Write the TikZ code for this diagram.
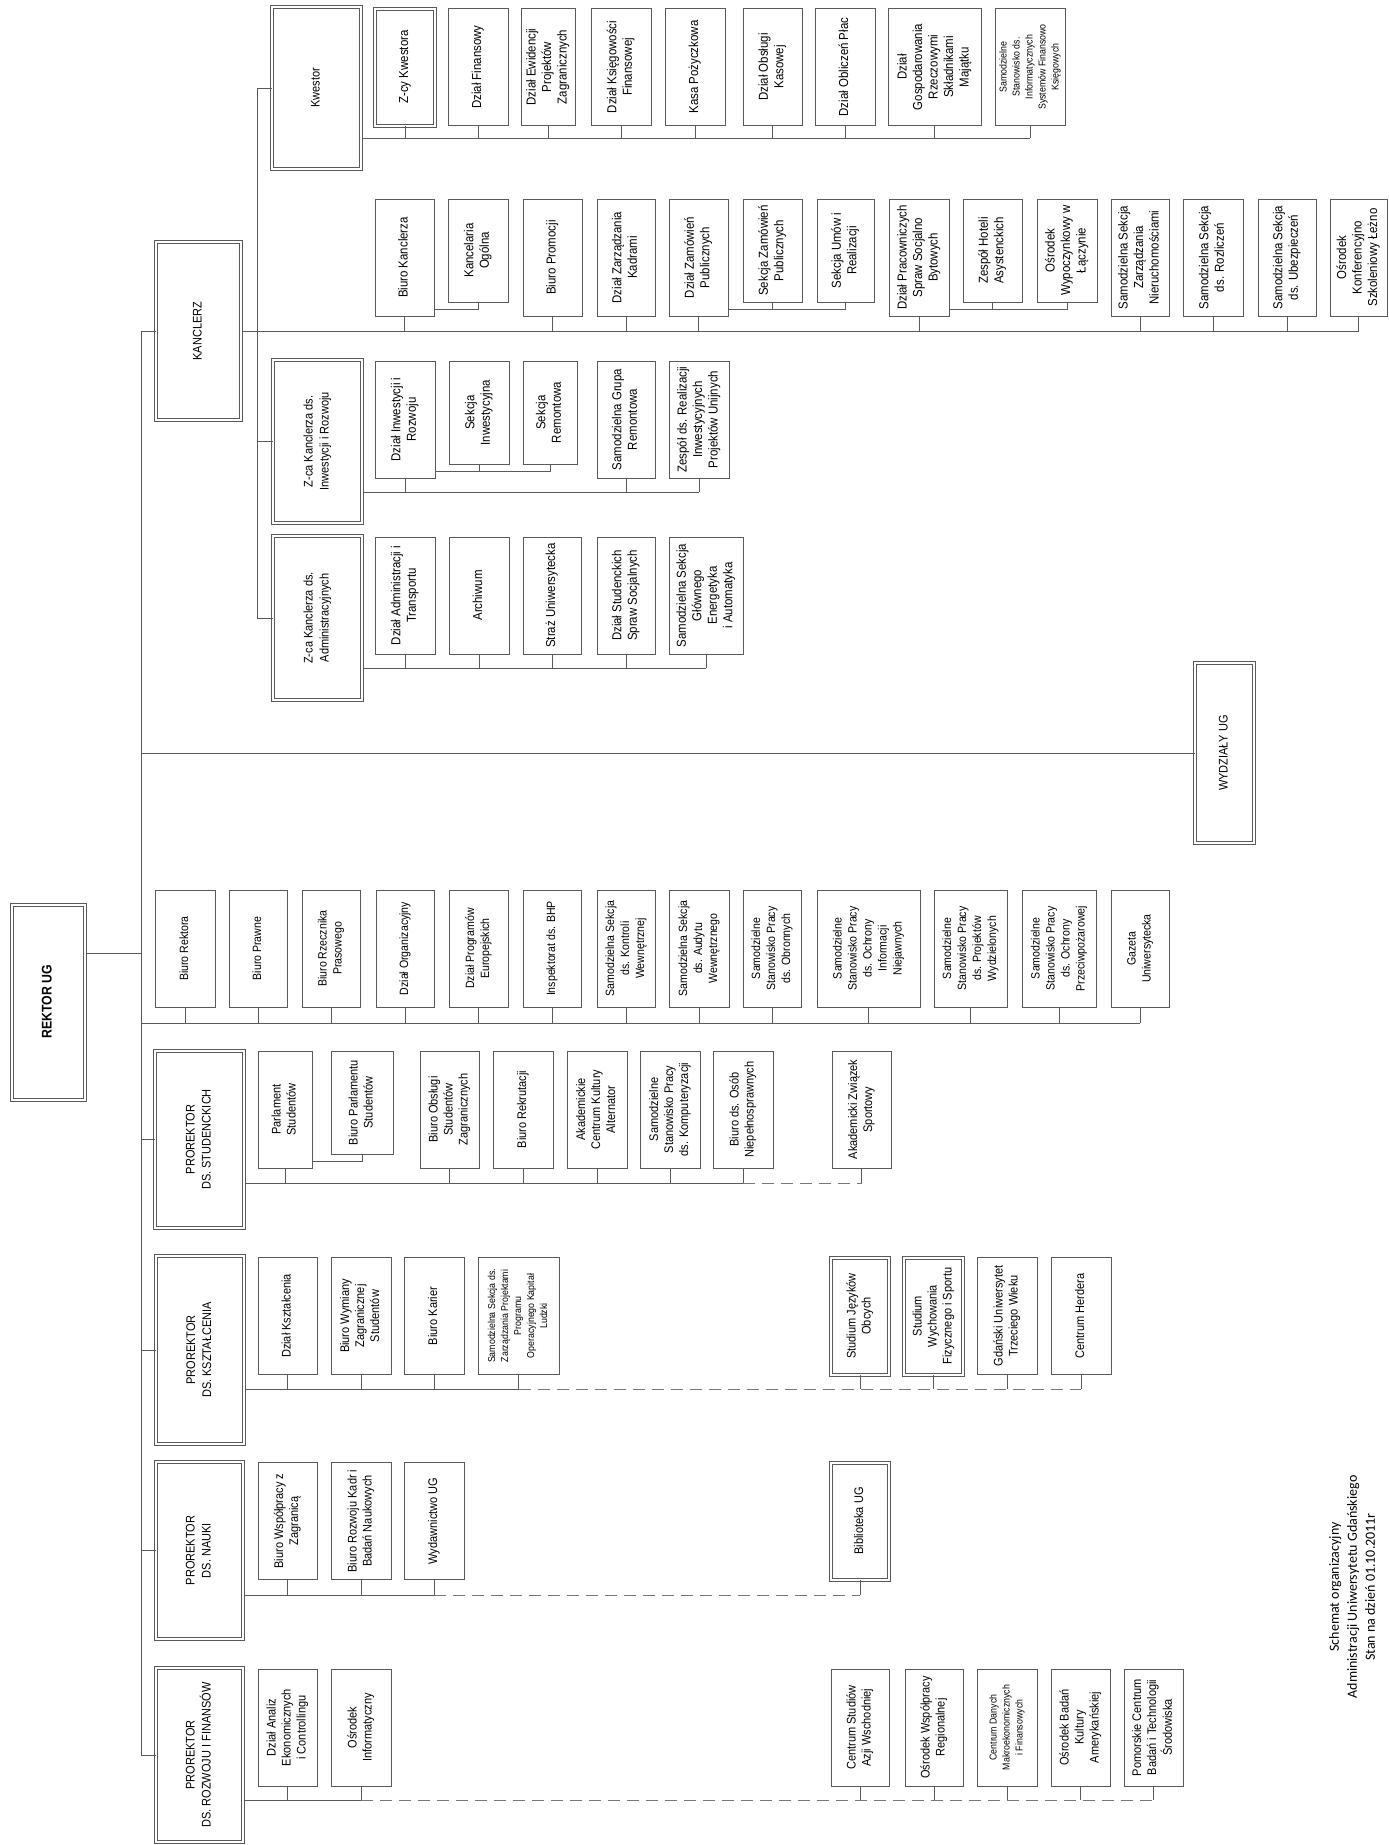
\documentclass[tikz,border=0pt]{standalone}
\usepackage{fontspec}
\setmainfont{Liberation Sans}[FakeStretch=0.88]
\newfontfamily\notefont{Carlito}
\definecolor{linec}{RGB}{90,90,90}
\definecolor{dashc}{RGB}{120,120,120}
\newcommand{\vt}[1]{\rotatebox{90}{\begin{tabular}{@{}c@{}}#1\end{tabular}}}
\newcommand{\unitfont}{\fontsize{13}{15.5}\selectfont}

\begin{document}
\begin{tikzpicture}[x=1pt,y=-1pt,line width=0.9pt]
  \tikzset{unit/.style={draw=linec,fill=white,inner sep=0pt,minimum height=117,font=\unitfont},
    subunit/.style={unit,minimum height=103},
    dunit/.style={unit,double=white,double distance=2pt,line width=1pt},
    head/.style={dunit,font={\fontsize{12.5}{16}\selectfont}},
    small/.style={font={\fontsize{10}{13}\selectfont}},
    link/.style={draw=linec},
    dashlink/.style={draw=dashc,dash pattern=on 12pt off 7pt}}
  \useasboundingbox (0,0) rectangle (1389,1845);
  % heads
  \node[head,minimum width=73,minimum height=195,font={\bfseries\fontsize{14}{16}\selectfont}] (rek) at (48.5,1002) {\vt{REKTOR UG}};
  \node[head,minimum width=85,minimum height=178] (kan) at (198.5,331) {\vt{KANCLERZ}};
  \node[head,minimum width=89,minimum height=162] (kw) at (316.5,88) {\vt{Kwestor}};
  \node[head,minimum width=89,minimum height=163] (zinw) at (317.5,441.5) {\vt{Z-ca Kanclerza ds.\\Inwestycji i Rozwoju}};
  \node[head,minimum width=89,minimum height=164] (zadm) at (317.5,618) {\vt{Z-ca Kanclerza ds.\\Administracyjnych}};
  \node[head,minimum width=59,minimum height=180] (wydz) at (1224.5,753) {\vt{WYDZIAŁY UG}};
  \node[head,minimum width=89,minimum height=177] (pst) at (199.5,1139.5) {\vt{PROREKTOR\\DS. STUDENCKICH}};
  \node[head,minimum width=88,minimum height=188] (pks) at (200,1350) {\vt{PROREKTOR\\DS. KSZTAŁCENIA}};
  \node[head,minimum width=87,minimum height=177] (pn) at (199.5,1550.5) {\vt{PROREKTOR\\DS. NAUKI}};
  \node[head,minimum width=87,minimum height=174] (prf) at (199.5,1755) {\vt{PROREKTOR\\DS. ROZWOJU I FINANSÓW}};

  % spine
  \coordinate (spine) at (141,0);
  \coordinate (rekc) at (0,953);
  \coordinate (rekbus) at (0,1023);
  \draw[link] (kan.west -| spine) -- (prf.west -| spine);
  \foreach \n in {kan,wydz,pst,pks,pn,prf}
    \draw[link] (\n.west) -- (\n.west -| spine);
  \draw[link] (rek.east |- rekc) -- (rekc -| spine);

  % kwestor
  \node[dunit,minimum width=60] (zkw) at (405,67) {\vt{Z-cy Kwestora}};
  \node[unit,minimum width=60] (dfin) at (478,67) {\vt{Dział Finansowy}};
  \node[unit,minimum width=54] (dew) at (548,67) {\vt{Dział Ewidencji\\Projektów\\Zagranicznych}};
  \node[unit,minimum width=60] (dks) at (621,67) {\vt{Dział Księgowości\\Finansowej}};
  \node[unit,minimum width=60] (kasa) at (695,67) {\vt{Kasa Pożyczkowa}};
  \node[unit,minimum width=59] (dok) at (772.5,67) {\vt{Dział Obsługi\\Kasowej}};
  \node[unit,minimum width=60] (dop) at (845,67) {\vt{Dział Obliczeń Płac}};
  \node[unit,minimum width=93] (dgos) at (934.5,67) {\vt{Dział\\Gospodarowania\\Rzeczowymi\\Składnikami\\Majątku}};
  \node[unit,small,minimum width=70] (ssinf) at (1030,67) {\vt{Samodzielne\\Stanowisko ds.\\Informatycznych\\Systemów Finansowo\\Księgowych}};
  \coordinate (kwbus) at (0,138);
  \draw[link] (kw.east |- kwbus) -- (ssinf.south |- kwbus);
  \foreach \n in {zkw,dfin,dew,dks,kasa,dok,dop,dgos,ssinf}
    \draw[link] (\n.south) -- (\n.south |- kwbus);

  % kanclerz
  \node[unit,minimum width=59] (bk) at (404.5,257.5) {\vt{Biuro Kanclerza}};
  \node[subunit,minimum width=60] (ko) at (478,250.5) {\vt{Kancelaria\\Ogólna}};
  \node[unit,minimum width=59] (bp) at (552.5,257.5) {\vt{Biuro Promocji}};
  \node[unit,minimum width=58] (dzk) at (626,257.5) {\vt{Dział Zarządzania\\Kadrami}};
  \node[unit,minimum width=59] (dzp) at (698.5,257.5) {\vt{Dział Zamówień\\Publicznych}};
  \node[subunit,minimum width=59] (szp) at (772.5,250.5) {\vt{Sekcja Zamówień\\Publicznych}};
  \node[subunit,minimum width=57] (sur) at (845.5,250.5) {\vt{Sekcja Umów i\\Realizacji}};
  \node[unit,minimum width=60] (dpsb) at (919,257.5) {\vt{Dział Pracowniczych\\Spraw Socjalno\\Bytowych}};
  \node[subunit,minimum width=59] (zha) at (992.5,250.5) {\vt{Zespół Hoteli\\Asystenckich}};
  \node[subunit,minimum width=60] (owl) at (1067,250.5) {\vt{Ośrodek\\Wypoczynkowy w\\Łączynie}};
  \node[unit,minimum width=58] (ssn) at (1140,257.5) {\vt{Samodzielna Sekcja\\Zarządzania\\Nieruchomościami}};
  \node[unit,minimum width=60] (ssr) at (1213,257.5) {\vt{Samodzielna Sekcja\\ds. Rozliczeń}};
  \node[unit,minimum width=58] (ssu) at (1287,257.5) {\vt{Samodzielna Sekcja\\ds. Ubezpieczeń}};
  \node[unit,minimum width=57] (okl) at (1358.5,257.5) {\vt{Ośrodek\\Konferencyjno\\Szkoleniowy Łeżno}};
  \coordinate (kansub) at (0,309);
  \draw[link] (kan.east) -- (okl.south |- kan.east);
  \foreach \n in {bk,bp,dzk,dzp,dpsb,ssn,ssr,ssu,okl}
    \draw[link] (\n.south) -- (\n.south |- kan.east);
  \draw[link] (bk.east |- kansub) -| (ko.south);
  \draw[link] (dzp.east |- kansub) -| (sur.south);
  \draw[link] (szp.south) -- (szp.south |- kansub);
  \draw[link] (dpsb.east |- kansub) -| (owl.south);
  \draw[link] (zha.south) -- (zha.south |- kansub);
  \coordinate (kline) at (257,0);
  \draw[link] (kw.west -| kline) -- (zadm.west -| kline);
  \foreach \n in {kw,zinw,zadm}
    \draw[link] (\n.west) -- (\n.west -| kline);

  % inwestycje
  \node[unit,minimum width=60] (dir) at (405,419.5) {\vt{Dział Inwestycji i\\Rozwoju}};
  \node[subunit,minimum width=60] (si) at (479,412.5) {\vt{Sekcja\\Inwestycyjna}};
  \node[subunit,minimum width=54] (sr) at (550,412.5) {\vt{Sekcja\\Remontowa}};
  \node[unit,minimum width=58] (sgr) at (626,419.5) {\vt{Samodzielna Grupa\\Remontowa}};
  \node[unit,minimum width=60] (zri) at (699,419.5) {\vt{Zespół ds. Realizacji\\Inwestycyjnych\\Projektów Unijnych}};
  \coordinate (zinwbus) at (0,492);
  \coordinate (zinwsub) at (0,471);
  \draw[link] (zinw.east |- zinwbus) -- (zri.south |- zinwbus);
  \foreach \n in {dir,sgr,zri}
    \draw[link] (\n.south) -- (\n.south |- zinwbus);
  \draw[link] (dir.east |- zinwsub) -| (sr.south);
  \draw[link] (si.south) -- (si.south |- zinwsub);

  % administracja
  \node[unit,minimum width=60] (dat) at (405,595.5) {\vt{Dział Administracji i\\Transportu}};
  \node[unit,minimum width=60] (arch) at (479,595.5) {\vt{Archiwum}};
  \node[unit,minimum width=58] (su) at (552,595.5) {\vt{Straż Uniwersytecka}};
  \node[unit,minimum width=58] (dsss) at (626,595.5) {\vt{Dział Studenckich\\Spraw Socjalnych}};
  \node[unit,minimum width=74] (ssge) at (706,595.5) {\vt{Samodzielna Sekcja\\Głównego\\Energetyka\\i Automatyka}};
  \coordinate (zadmbus) at (0,668);
  \draw[link] (zadm.east |- zadmbus) -- (ssge.south |- zadmbus);
  \foreach \n in {dat,arch,su,dsss,ssge}
    \draw[link] (\n.south) -- (\n.south |- zadmbus);

  % rektor
  \renewcommand{\unitfont}{\fontsize{12}{15}\selectfont}
  \node[unit,minimum width=60] (br) at (185,948.5) {\vt{Biuro Rektora}};
  \node[unit,minimum width=58] (bpr) at (258,948.5) {\vt{Biuro Prawne}};
  \node[unit,minimum width=58] (brp) at (331,948.5) {\vt{Biuro Rzecznika\\Prasowego}};
  \node[unit,minimum width=58] (dorg) at (405,948.5) {\vt{Dział Organizacyjny}};
  \node[unit,minimum width=59] (dpe) at (478.5,948.5) {\vt{Dział Programów\\Europejskich}};
  \node[unit,minimum width=58] (bhp) at (552,948.5) {\vt{Inspektorat ds. BHP}};
  \node[unit,minimum width=58] (sskw) at (626,948.5) {\vt{Samodzielna Sekcja\\ds. Kontroli\\Wewnętrznej}};
  \node[unit,minimum width=60] (ssaw) at (699,948.5) {\vt{Samodzielna Sekcja\\ds. Audytu\\Wewnętrznego}};
  \node[unit,minimum width=58] (ssob) at (772,948.5) {\vt{Samodzielne\\Stanowisko Pracy\\ds. Obronnych}};
  \node[unit,minimum width=103] (ssoi) at (868.5,948.5) {\vt{Samodzielne\\Stanowisko Pracy\\ds. Ochrony\\Informacji\\Niejawnych}};
  \node[unit,minimum width=73] (sspw) at (970.5,948.5) {\vt{Samodzielne\\Stanowisko Pracy\\ds. Projektów\\Wydzielonych}};
  \node[unit,minimum width=74] (ssop) at (1059,948.5) {\vt{Samodzielne\\Stanowisko Pracy\\ds. Ochrony\\Przeciwpożarowej}};
  \node[unit,minimum width=58] (gaz) at (1140,948.5) {\vt{Gazeta\\Uniwersytecka}};
  \draw[link] (spine |- rekbus) -- (gaz.south |- rekbus);
  \foreach \n in {br,bpr,brp,dorg,dpe,bhp,sskw,ssaw,ssob,ssoi,sspw,ssop,gaz}
    \draw[link] (\n.south) -- (\n.south |- rekbus);

  % studenci
  \renewcommand{\unitfont}{\fontsize{12.5}{15}\selectfont}
  \node[unit,minimum width=54] (ps) at (285,1109.5) {\vt{Parlament\\Studentów}};
  \node[subunit,minimum width=62] (bps) at (362,1102.5) {\vt{Biuro Parlamentu\\Studentów}};
  \node[unit,minimum width=59] (bos) at (449.5,1109.5) {\vt{Biuro Obsługi\\Studentów\\Zagranicznych}};
  \node[unit,minimum width=60] (brek) at (523,1109.5) {\vt{Biuro Rekrutacji}};
  \node[unit,minimum width=60] (acka) at (597,1109.5) {\vt{Akademickie\\Centrum Kultury\\Alternator}};
  \node[unit,minimum width=60] (sspk) at (670,1109.5) {\vt{Samodzielne\\Stanowisko Pracy\\ds. Komputeryzacji}};
  \node[unit,minimum width=60] (bon) at (743,1109.5) {\vt{Biuro ds. Osób\\Niepełnosprawnych}};
  \node[unit,minimum width=59] (azs) at (861.5,1109.5) {\vt{Akademicki Związek\\Sportowy}};
  \coordinate (pstbus) at (0,1183);
  \coordinate (pstsub) at (0,1161);
  \draw[link] (pst.east |- pstbus) -- (bon.south |- pstbus);
  \draw[dashlink] (bon.south |- pstbus) -- (azs.south |- pstbus);
  \foreach \n in {ps,bos,brek,acka,sspk,bon,azs}
    \draw[link] (\n.south) -- (\n.south |- pstbus);
  \draw[link] (ps.east |- pstsub) -| (bps.south);

  % ksztalcenie
  \node[unit,minimum width=59] (dk) at (287.5,1316) {\vt{Dział Kształcenia}};
  \node[unit,minimum width=60] (bwz) at (361,1316) {\vt{Biuro Wymiany\\Zagranicznej\\Studentów}};
  \node[unit,minimum width=60] (bkar) at (434,1316) {\vt{Biuro Karier}};
  \node[unit,small,minimum width=81] (sspkl) at (518.5,1316) {\vt{Samodzielna Sekcja ds.\\Zarządzania Projektami\\Programu\\Operacyjnego Kapitał\\Ludzki}};
  \node[dunit,minimum width=58] (sjo) at (860,1316) {\vt{Studium Języków\\Obcych}};
  \node[dunit,minimum width=59] (swf) at (933.5,1316) {\vt{Studium\\Wychowania\\Fizycznego i Sportu}};
  \node[unit,minimum width=60] (gutw) at (1007,1316) {\vt{Gdański Uniwersytet\\Trzeciego Wieku}};
  \node[unit,minimum width=60] (ch) at (1081,1316) {\vt{Centrum Herdera}};
  \coordinate (pksbus) at (0,1389);
  \draw[link] (pks.east |- pksbus) -- (sspkl.south |- pksbus);
  \draw[dashlink] (sspkl.south |- pksbus) -- (ch.south |- pksbus);
  \foreach \n in {dk,bwz,bkar,sspkl,sjo,swf,gutw,ch}
    \draw[link] (\n.south) -- (\n.south |- pksbus);

  % nauka
  \node[unit,minimum width=59] (bwzg) at (287.5,1521) {\vt{Biuro Współpracy z\\Zagranicą}};
  \node[unit,minimum width=60] (brkb) at (361,1521) {\vt{Biuro Rozwoju Kadr i\\Badań Naukowych}};
  \node[unit,minimum width=60] (wyd) at (434,1521) {\vt{Wydawnictwo UG}};
  \node[dunit,minimum width=58] (bib) at (860,1521) {\vt{Biblioteka UG}};
  \coordinate (pnbus) at (0,1595);
  \draw[link] (pn.east |- pnbus) -- (wyd.south |- pnbus);
  \draw[dashlink] (wyd.south |- pnbus) -- (bib.south |- pnbus);
  \foreach \n in {bwzg,brkb,wyd,bib}
    \draw[link] (\n.south) -- (\n.south |- pnbus);

  % rozwoj i finanse
  \node[unit,minimum width=59] (daek) at (287.5,1727.5) {\vt{Dział Analiz\\Ekonomicznych\\i Controllingu}};
  \node[unit,minimum width=60] (oi) at (361,1727.5) {\vt{Ośrodek\\Informatyczny}};
  \node[unit,minimum width=58] (csaw) at (860,1727.5) {\vt{Centrum Studiów\\Azji Wschodniej}};
  \node[unit,minimum width=58] (owr) at (934,1727.5) {\vt{Ośrodek Współpracy\\Regionalnej}};
  \node[unit,small,minimum width=60] (cdmf) at (1007,1727.5) {\vt{Centrum Danych\\Makroekonomicznych\\i Finansowych}};
  \node[unit,minimum width=59] (obka) at (1080.5,1727.5) {\vt{Ośrodek Badań\\Kultury\\Amerykańskiej}};
  \node[unit,minimum width=59] (pcb) at (1153.5,1727.5) {\vt{Pomorskie Centrum\\Badań i Technologii\\Środowiska}};
  \coordinate (prfbus) at (0,1800);
  \draw[link] (prf.east |- prfbus) -- (oi.south |- prfbus);
  \draw[dashlink] (oi.south |- prfbus) -- (pcb.south |- prfbus);
  \foreach \n in {daek,oi,csaw,owr,cdmf,obka,pcb}
    \draw[link] (\n.south) -- (\n.south |- prfbus);

  \node[rotate=90,align=center,font={\notefont\fontsize{14}{18}\selectfont}] (note) at (1352,1587)
    {Schemat organizacyjny\\Administracji Uniwersytetu Gdańskiego\\Stan na dzień 01.10.2011r};
\end{tikzpicture}
\end{document}
